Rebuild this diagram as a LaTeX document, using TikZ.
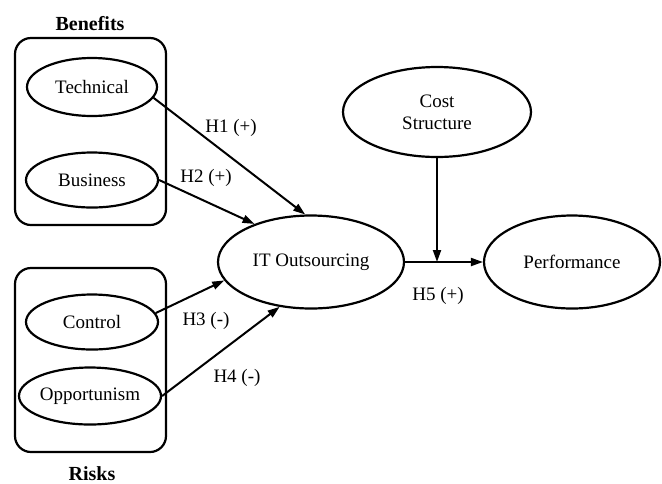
\documentclass[tikz,border=0pt]{standalone}
\usepackage{fontspec}
\setmainfont{Liberation Serif}
\usetikzlibrary{shapes.geometric, arrows.meta, positioning}

\begin{document}
\begin{tikzpicture}[x=0.5pt, y=-0.5pt,
  construct/.style={draw, ellipse, line width=1.1pt, inner sep=0pt, align=center, font=\fontsize{9.5}{11}\selectfont},
  group/.style={draw, rounded corners=8pt, line width=1.1pt},
  link/.style={-{Triangle[length=6pt,width=4pt]}, line width=1pt},
  hyp/.style={font=\fontsize{9.5}{11}\selectfont},
  title/.style={font=\fontsize{10}{12}\selectfont\bfseries},
]
  \useasboundingbox (0,0) rectangle (662,483);

  % Benefits
  \node[group, minimum width=75.5pt, minimum height=93.5pt] (benefits) at (90.5,131.5) {};
  \node[title] (benefitslbl) at (90,24) {Benefits};
  \node[construct, minimum width=65pt, minimum height=29pt] (tech) at (92,87) {Technical};
  \node[construct, minimum width=66pt, minimum height=27.5pt] (bus) at (92,180) {Business};

  % Risks
  \node[group, minimum width=75.5pt, minimum height=92pt] (risks) at (90.5,360) {};
  \node[title] (riskslbl) at (92,474) {Risks};
  \node[construct, minimum width=66pt, minimum height=27.5pt] (ctrl) at (92,322) {Control};
  \node[construct, minimum width=71pt, minimum height=28.5pt] (opp) at (90,396) {Opportunism};

  % Outsourcing and performance
  \node[construct, minimum width=93pt, minimum height=46.5pt] (it) at (311,262) {IT Outsourcing};
  \node[construct, minimum width=94pt, minimum height=45pt] (cost) at (437,112) {Cost\\Structure};
  \node[construct, minimum width=88pt, minimum height=46.5pt] (perf) at (572,262) {Performance};
  \coordinate (mod) at (cost.south |- it.east);

  % Hypotheses
  \draw[link] (tech.-10) -- (it.97);
  \draw[link] (bus.east) -- (it.146);
  \draw[link] (ctrl.8) -- (it.192);
  \draw[link] (opp.east) -- (it.235);
  \draw[link] (it.east) -- (perf.west);
  \draw[link] (cost.south) -- (mod);

  \node[hyp] (h1) at (231,128) {H1 (+)};
  \node[hyp] (h2) at (206,178) {H2 (+)};
  \node[hyp] (h3) at (206,321) {H3 (-)};
  \node[hyp] (h4) at (237,378) {H4 (-)};
  \node[hyp] (h5) at (438,296) {H5 (+)};
\end{tikzpicture}
\end{document}
